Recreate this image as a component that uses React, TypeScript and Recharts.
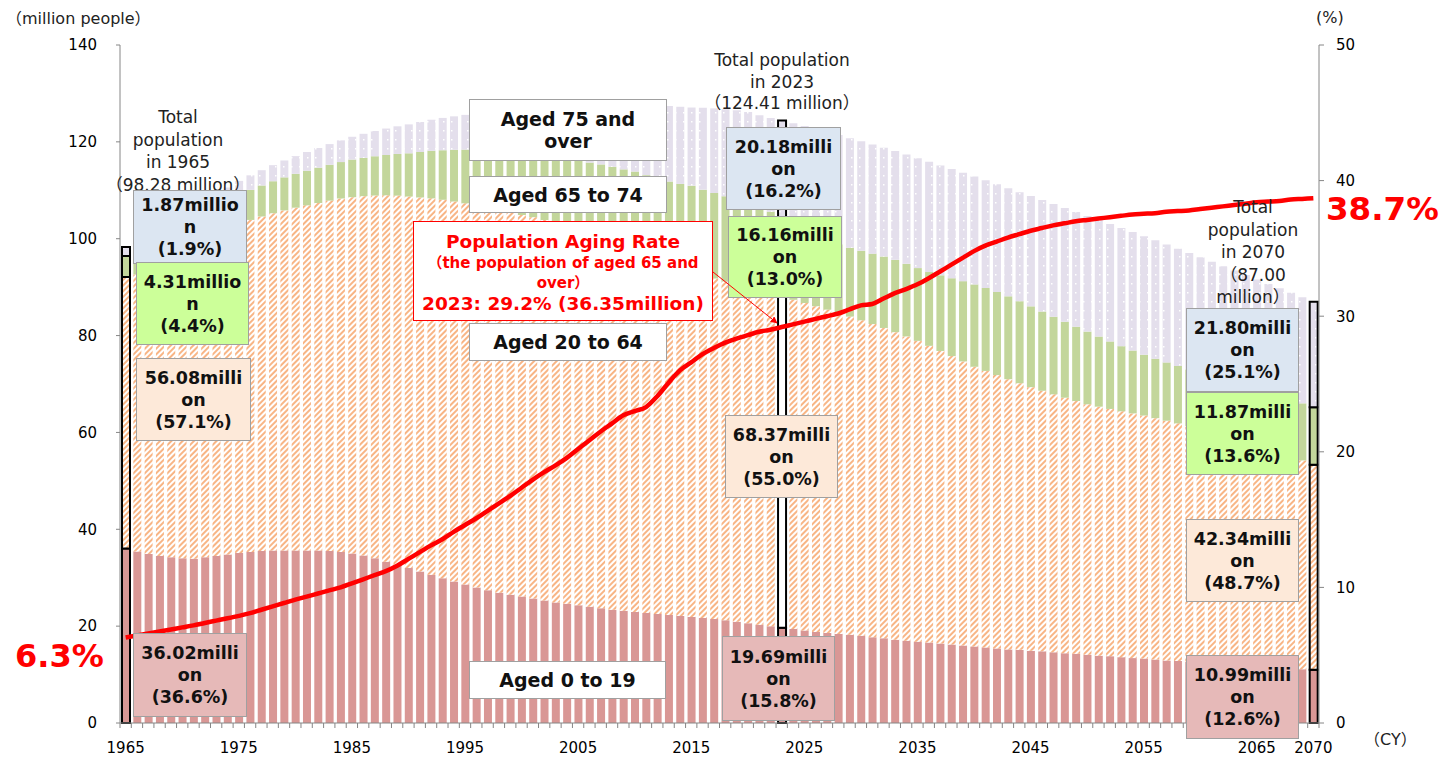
import React from "react";
import { ComposedChart, Bar, Line, XAxis, YAxis, Cell } from "recharts";

// Japan population by age group (million people), 1965-2070 (2024 onwards: projection)
const years: number[] = [];
for (let y = 1965; y <= 2070; y++) years.push(y);

const aged0to19 = [
  36.02, 35.4, 34.9, 34.5, 34.2, 34.0, 33.9, 34.2, 34.5, 34.8,
  35.1, 35.3, 35.5, 35.6, 35.6, 35.6, 35.6, 35.6, 35.5, 35.3,
  35.0, 34.6, 34.0, 33.3, 32.6, 32.0, 31.3, 30.6, 29.9, 29.2,
  28.6, 28.0, 27.4, 26.9, 26.5, 26.1, 25.7, 25.3, 24.9, 24.6,
  24.3, 24.0, 23.7, 23.4, 23.2, 22.9, 22.7, 22.5, 22.3, 22.1,
  21.9, 21.7, 21.5, 21.2, 20.9, 20.6, 20.3, 20.0, 19.69, 19.4,
  19.1, 18.8, 18.6, 18.4, 18.2, 18.0, 17.7, 17.5, 17.2, 17.0,
  16.8, 16.6, 16.4, 16.2, 16.0, 15.8, 15.6, 15.4, 15.2, 15.1,
  14.9, 14.8, 14.6, 14.4, 14.3, 14.1, 13.9, 13.8, 13.6, 13.4,
  13.3, 13.1, 12.9, 12.8, 12.6, 12.4, 12.3, 12.1, 12.0, 11.8,
  11.7, 11.6, 11.4, 11.3, 11.1, 10.99,
];

const aged20to64 = [
  56.08, 57.23, 58.69, 60.01, 61.29, 63.28, 64.17, 65.43, 66.37, 67.26,
  67.97, 68.58, 69.09, 69.67, 70.25, 70.81, 71.29, 71.77, 72.37, 73.01,
  73.58, 74.19, 74.92, 75.66, 76.3, 76.71, 77.22, 77.73, 78.14, 78.48,
  78.71, 78.84, 79.01, 79.08, 79.0, 78.79, 78.75, 78.56, 78.48, 78.31,
  77.8, 77.25, 76.87, 76.46, 75.82, 75.68, 75.38, 74.3, 73.21, 72.14,
  71.32, 70.75, 70.27, 69.97, 69.76, 69.52, 68.99, 68.71, 68.37, 67.99,
  67.63, 67.26, 66.76, 66.26, 65.72, 65.16, 64.68, 64.07, 63.51, 62.83,
  62.11, 61.28, 60.42, 59.56, 58.66, 57.76, 57.1, 56.44, 55.79, 55.06,
  54.45, 53.8, 53.27, 52.77, 52.19, 51.71, 51.42, 51.05, 50.76, 50.53,
  50.19, 49.85, 49.52, 49.07, 48.73, 48.35, 47.81, 47.37, 46.81, 46.34,
  45.74, 45.08, 44.49, 43.76, 43.12, 42.34,
];

const aged65to74 = [
  4.31, 4.48, 4.6, 4.74, 4.89, 5.15, 5.29, 5.52, 5.67, 5.81,
  6.03, 6.21, 6.4, 6.6, 6.82, 6.99, 7.15, 7.3, 7.4, 7.52,
  7.76, 7.91, 8.11, 8.33, 8.6, 8.93, 9.38, 9.81, 10.23, 10.68,
  11.09, 11.52, 11.92, 12.31, 12.61, 13.04, 13.37, 13.59, 13.75, 13.81,
  14.07, 14.47, 14.77, 15.0, 15.3, 15.29, 15.04, 15.6, 16.3, 17.08,
  17.74, 17.68, 17.67, 17.6, 17.4, 17.43, 17.54, 16.88, 16.16, 15.55,
  14.98, 14.59, 14.32, 14.19, 14.22, 14.35, 14.54, 14.75, 14.93, 14.99,
  15.02, 15.24, 15.62, 16.08, 16.58, 17.01, 17.13, 17.16, 17.11, 16.94,
  16.68, 16.36, 16.02, 15.68, 15.34, 15.01, 14.48, 13.94, 13.46, 12.98,
  12.55, 12.27, 12.04, 11.85, 11.69, 11.58, 11.55, 11.53, 11.52, 11.51,
  11.52, 11.57, 11.63, 11.71, 11.78, 11.87,
];

const aged75plus = [
  1.87, 1.94, 2.01, 2.08, 2.16, 2.24, 2.34, 2.45, 2.56, 2.7,
  2.84, 3.0, 3.16, 3.32, 3.49, 3.66, 3.86, 4.06, 4.27, 4.48,
  4.71, 4.96, 5.21, 5.46, 5.71, 5.97, 6.2, 6.43, 6.67, 6.91,
  7.17, 7.5, 7.84, 8.2, 8.58, 9.0, 9.5, 10.04, 10.56, 11.07,
  11.6, 12.13, 12.69, 13.22, 13.71, 14.19, 14.71, 15.19, 15.6, 15.92,
  16.13, 16.91, 17.48, 17.98, 18.49, 18.6, 18.67, 19.36, 20.18, 20.9,
  21.55, 22.01, 22.36, 22.56, 22.63, 22.61, 22.54, 22.47, 22.45, 22.56,
  22.71, 22.78, 22.7, 22.54, 22.37, 22.27, 22.22, 22.25, 22.34, 22.52,
  22.77, 23.02, 23.27, 23.49, 23.69, 23.87, 24.07, 24.25, 24.38, 24.46,
  24.49, 24.44, 24.33, 24.19, 24.02, 23.82, 23.58, 23.33, 23.09, 22.86,
  22.63, 22.42, 22.23, 22.06, 21.92, 21.8,
];

// population aging rate (%), right axis
const agingRate = [
  6.3, 6.45, 6.6, 6.75, 6.9, 7.05, 7.2, 7.38, 7.55, 7.72,
  7.9, 8.1, 8.35, 8.6, 8.85, 9.1, 9.32, 9.55, 9.78, 10.0,
  10.3, 10.6, 10.9, 11.2, 11.6, 12.1, 12.6, 13.1, 13.55, 14.1,
  14.6, 15.1, 15.65, 16.2, 16.75, 17.35, 17.95, 18.5, 19.0, 19.55,
  20.2, 20.85, 21.5, 22.1, 22.7, 23.0, 23.3, 24.1, 25.1, 26.0,
  26.6, 27.2, 27.65, 28.05, 28.35, 28.6, 28.85, 29.0, 29.2, 29.4,
  29.6, 29.8, 30.0, 30.2, 30.5, 30.8, 30.9, 31.3, 31.7, 32.0,
  32.35, 32.8, 33.3, 33.8, 34.3, 34.8, 35.2, 35.5, 35.8, 36.05,
  36.3, 36.5, 36.7, 36.85, 37.0, 37.1, 37.2, 37.3, 37.4, 37.5,
  37.55, 37.6, 37.7, 37.75, 37.8, 37.9, 38.0, 38.1, 38.2, 38.3,
  38.4, 38.45, 38.5, 38.6, 38.65, 38.7,
];

const labelYears = [1965, 1975, 1985, 1995, 2005, 2015, 2025, 2035, 2045, 2055, 2065, 2070];
const highlightYears = [1965, 2023, 2070];
const leftTicks = [0, 20, 40, 60, 80, 100, 120, 140];
const rightTicks = [0, 10, 20, 30, 40, 50];

const data = years.map((year, i) => ({
  year,
  a0: aged0to19[i],
  a20: aged20to64[i],
  a65: aged65to74[i],
  a75: aged75plus[i],
  rate: agingRate[i],
}));

const FONT = "'DejaVu Sans', 'Noto Sans CJK JP', sans-serif";
const AXIS = "#868686";
const BAND = 1199 / years.length;

const YearTick = (props: any) => {
  const { x, y, payload, index } = props;
  const half = BAND / 2;
  const show = labelYears.includes(Number(payload.value));
  return (
    <g>
      <line x1={x + half} x2={x + half} y1={y - 5} y2={y} stroke={AXIS} />
      {index === 0 && <line x1={x - half} x2={x - half} y1={y - 5} y2={y} stroke={AXIS} />}
      {show && (
        <text x={x} y={y + 25} textAnchor="middle" fontSize={15} fill="#000">
          {payload.value}
        </text>
      )}
    </g>
  );
};

const cellsFor = (fill: string, key: string) =>
  data.map((d) => {
    const hi = highlightYears.includes(d.year);
    const f = key === "a20" && d.year === 2023 ? "#fff" : fill;
    return (
      <Cell
        key={`${key}-${d.year}`}
        fill={f}
        stroke={hi ? "#000" : "none"}
        strokeWidth={hi ? 2 : 0}
      />
    );
  });

type BoxProps = {
  left: number;
  top: number;
  right: number;
  bottom: number;
  fill: string;
  lines: string[];
  size?: number;
};

const ValueBox = ({ left, top, right, bottom, fill, lines, size = 17.5 }: BoxProps) => (
  <div
    style={{
      position: "absolute",
      left,
      top,
      width: right - left,
      height: bottom - top,
      background: fill,
      border: "1px solid #A0A0A0",
      boxSizing: "border-box",
      display: "flex",
      flexDirection: "column",
      justifyContent: "center",
      alignItems: "center",
      fontWeight: "bold",
      fontSize: size,
      lineHeight: "22px",
      color: "#111",
      whiteSpace: "nowrap",
    }}
  >
    {lines.map((l) => (
      <div key={l}>{l}</div>
    ))}
  </div>
);

const PlainText = ({ cx, top, lines, lh }: { cx: number; top: number; lines: string[]; lh: number }) => (
  <div
    style={{
      position: "absolute",
      left: cx - 100,
      top,
      width: 200,
      textAlign: "center",
      fontSize: 17,
      lineHeight: `${lh}px`,
      color: "#222",
      whiteSpace: "nowrap",
    }}
  >
    {lines.map((l) => (
      <div key={l}>{l}</div>
    ))}
  </div>
);

const BLUE = "#DCE6F2";
const GREEN = "#CCFF99";
const PEACH = "#FDE9D9";
const PINK = "#E6B9B8";

export default function App() {
  return (
    <div
      style={{
        position: "absolute",
        left: 0,
        top: 0,
        width: 1442,
        height: 758,
        background: "#fff",
        fontFamily: FONT,
        overflow: "hidden",
      }}
    >
      <ComposedChart
        width={1442}
        height={758}
        data={data}
        margin={{ top: 45, right: 63, bottom: 5, left: 60 }}
        barSize={8}
        barGap={0}
      >
        <defs>
          <pattern id="hatch" width="4" height="4" patternUnits="userSpaceOnUse" patternTransform="rotate(45)">
            <rect width="4" height="4" fill="#fff" />
            <rect width="2" height="4" fill="#F8B585" />
          </pattern>
          <pattern id="dots" width="8" height="9" patternUnits="userSpaceOnUse">
            <rect width="8" height="9" fill="#E4DFEC" />
            <rect x="3" y="4" width="1.5" height="1.5" fill="#fff" />
          </pattern>
        </defs>
        <XAxis
          dataKey="year"
          interval={0}
          height={30}
          axisLine={{ stroke: AXIS }}
          tickLine={false}
          tickSize={5}
          tickMargin={0}
          tick={<YearTick />}
        />
        <YAxis
          yAxisId="left"
          width={60}
          domain={[0, 140]}
          ticks={leftTicks}
          axisLine={{ stroke: AXIS }}
          tickLine={{ stroke: AXIS }}
          tickSize={4}
          tickMargin={19}
          tick={{ fill: "#000", fontSize: 15 }}
        />
        <YAxis
          yAxisId="right"
          orientation="right"
          width={60}
          domain={[0, 50]}
          ticks={rightTicks}
          axisLine={{ stroke: AXIS }}
          tickLine={{ stroke: AXIS }}
          tickSize={5}
          tickMargin={12}
          tick={{ fill: "#000", fontSize: 15, textAnchor: "start" }}
        />
        <Bar yAxisId="left" dataKey="a0" stackId="p" fill="#D99795" isAnimationActive={false}>
          {cellsFor("#D99795", "a0")}
        </Bar>
        <Bar yAxisId="left" dataKey="a20" stackId="p" fill="url(#hatch)" isAnimationActive={false}>
          {cellsFor("url(#hatch)", "a20")}
        </Bar>
        <Bar yAxisId="left" dataKey="a65" stackId="p" fill="#C3D69B" isAnimationActive={false}>
          {cellsFor("#C3D69B", "a65")}
        </Bar>
        <Bar yAxisId="left" dataKey="a75" stackId="p" fill="url(#dots)" isAnimationActive={false}>
          {cellsFor("url(#dots)", "a75")}
        </Bar>
        <Line
          yAxisId="right"
          dataKey="rate"
          type="monotone"
          stroke="#FF0000"
          strokeWidth={4.5}
          dot={false}
          activeDot={false}
          isAnimationActive={false}
        />
      </ComposedChart>

      {/* axis titles */}
      <div style={{ position: "absolute", left: 6, top: 5, fontSize: 16, color: "#222", whiteSpace: "nowrap" }}>
        （million people）
      </div>
      <div style={{ position: "absolute", left: 1316, top: 8, fontSize: 16, color: "#222" }}>(%)</div>
      <div style={{ position: "absolute", left: 1364, top: 726, fontSize: 16, color: "#222", whiteSpace: "nowrap" }}>
        （CY）
      </div>

      {/* total population notes */}
      <PlainText cx={178} top={106} lh={22.5} lines={["Total", "population", "in 1965", "（98.28 million）"]} />
      <PlainText cx={782} top={50} lh={21.5} lines={["Total population", "in 2023", "（124.41 million）"]} />
      <PlainText cx={1253} top={196} lh={22.5} lines={["Total", "population", "in 2070", "（87.00", "million）"]} />

      {/* 1965 */}
      <ValueBox left={133} top={190} right={247} bottom={264} fill={BLUE} lines={["1.87millio", "n", "(1.9%)"]} />
      <ValueBox left={136} top={262} right={249} bottom={345} fill={GREEN} lines={["4.31millio", "n", "(4.4%)"]} />
      <ValueBox left={136} top={358} right={251} bottom={441} fill={PEACH} lines={["56.08milli", "on", "(57.1%)"]} />
      <ValueBox left={133} top={633} right={247} bottom={717} fill={PINK} lines={["36.02milli", "on", "(36.6%)"]} />

      {/* 2023 */}
      <ValueBox left={726} top={127} right={841} bottom={210} fill={BLUE} lines={["20.18milli", "on", "(16.2%)"]} />
      <ValueBox left={728} top={216} right={842} bottom={298} fill={GREEN} lines={["16.16milli", "on", "(13.0%)"]} />
      <ValueBox left={725} top={415} right={838} bottom={498} fill={PEACH} lines={["68.37milli", "on", "(55.0%)"]} />
      <ValueBox left={722} top={636} right={835} bottom={721} fill={PINK} lines={["19.69milli", "on", "(15.8%)"]} />

      {/* 2070 */}
      <ValueBox left={1186} top={308} right={1299} bottom={392} fill={BLUE} lines={["21.80milli", "on", "(25.1%)"]} />
      <ValueBox left={1186} top={392} right={1299} bottom={475} fill={GREEN} lines={["11.87milli", "on", "(13.6%)"]} />
      <ValueBox left={1186} top={519} right={1299} bottom={602} fill={PEACH} lines={["42.34milli", "on", "(48.7%)"]} />
      <ValueBox left={1186} top={655} right={1299} bottom={739} fill={PINK} lines={["10.99milli", "on", "(12.6%)"]} />

      {/* age group names */}
      <ValueBox left={469} top={99} right={667} bottom={161} fill="#fff" size={19} lines={["Aged 75 and", "over"]} />
      <ValueBox left={469} top={176} right={667} bottom={213} fill="#fff" size={19} lines={["Aged 65 to 74"]} />
      <ValueBox left={469} top={323} right={667} bottom={361} fill="#fff" size={19} lines={["Aged 20 to 64"]} />
      <ValueBox left={469} top={661} right={666} bottom={699} fill="#fff" size={19} lines={["Aged 0 to 19"]} />

      {/* aging rate note */}
      <div
        style={{
          position: "absolute",
          left: 413,
          top: 221,
          width: 300,
          height: 100,
          background: "#fff",
          border: "1px solid #FF0000",
          boxSizing: "border-box",
          color: "#FF0000",
          fontWeight: "bold",
          textAlign: "center",
          whiteSpace: "nowrap",
          paddingTop: 9,
        }}
      >
        <div style={{ fontSize: 18.5, lineHeight: "22px" }}>Population Aging Rate</div>
        <div style={{ fontSize: 15, lineHeight: "20px" }}>（the population of aged 65 and</div>
        <div style={{ fontSize: 15, lineHeight: "20px" }}>over）</div>
        <div style={{ fontSize: 18.5, lineHeight: "22px" }}>2023: 29.2% (36.35million)</div>
      </div>
      <svg style={{ position: "absolute", left: 0, top: 0 }} width={1442} height={758} pointerEvents="none">
        <defs>
          <marker id="arr" viewBox="0 0 10 10" refX="9" refY="5" markerWidth="7" markerHeight="7" orient="auto">
            <path d="M0,0 L10,5 L0,10 z" fill="#FF0000" />
          </marker>
        </defs>
        <line x1={713} y1={272} x2={777} y2={323} stroke="#FF0000" strokeWidth={1} markerEnd="url(#arr)" />
      </svg>

      {/* start / end rates */}
      <div style={{ position: "absolute", left: 15, top: 637, fontSize: 32, fontWeight: "bold", color: "#FF0000" }}>
        6.3%
      </div>
      <div style={{ position: "absolute", left: 1326, top: 190, fontSize: 32.5, fontWeight: "bold", color: "#FF0000" }}>
        38.7%
      </div>
    </div>
  );
}
